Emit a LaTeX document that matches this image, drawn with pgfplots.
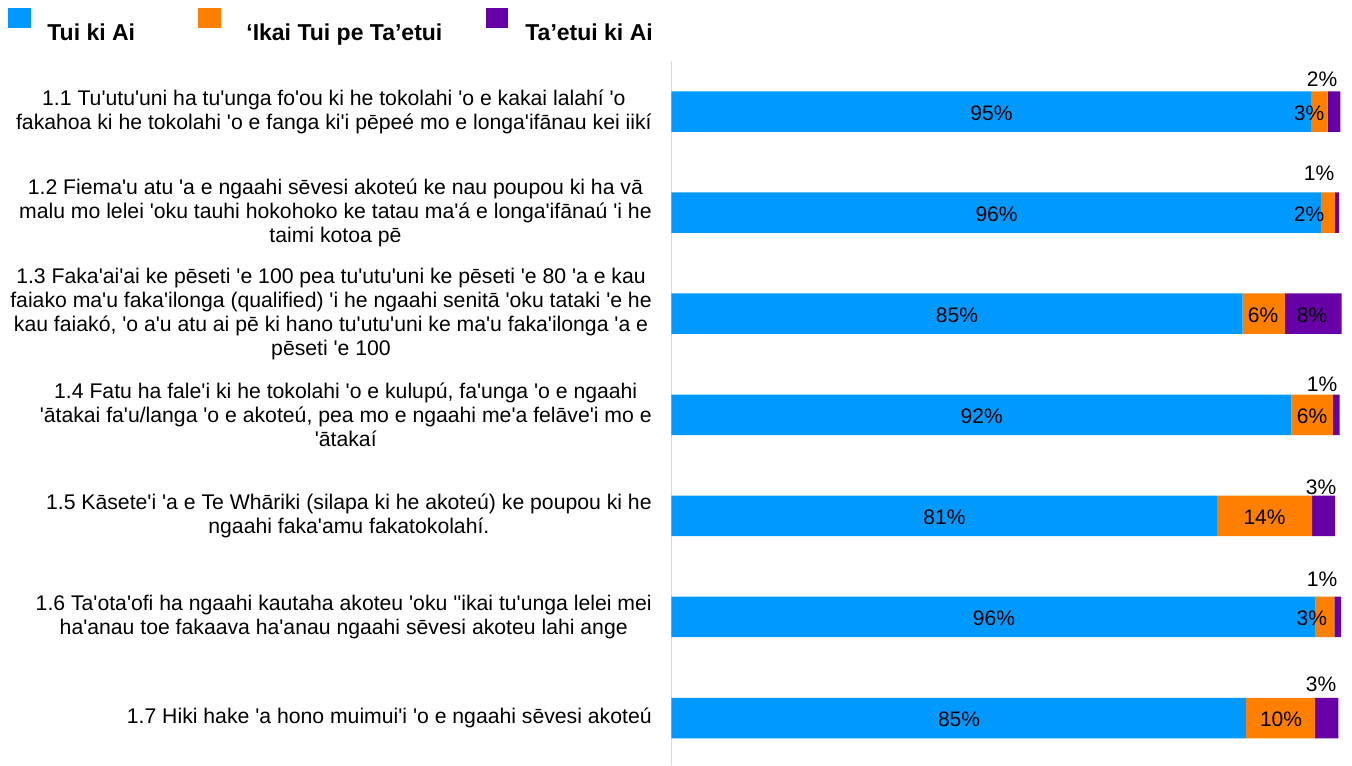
\documentclass[border=0pt]{standalone}
\usepackage{fontspec}
\setmainfont{Liberation Sans}
\newfontfamily\lib{Liberation Sans}
\usepackage{pgfplots}
\pgfplotsset{compat=1.18}
\usepackage{pgfplotstable}
\definecolor{cblue}{HTML}{0099FF}
\definecolor{corange}{HTML}{FF8000}
\definecolor{cpurple}{HTML}{6600A6}
\definecolor{caxis}{HTML}{D9D9D9}

\pgfplotstableread{
y tui ikai taetui
1 95.5 2.5 1.9
2 97.0 2.1 0.6
3 85.3 6.3 8.5
4 92.6 6.2 1.0
5 81.5 14.2 3.4
6 96.2 2.8 1.0
7 85.8 10.3 3.5
}\datatable

\pgfplotstableread{
x y lab
47.81 1 95
95.22 1 3
97.16 0.668 2
48.56 2 96
95.22 2 2
96.71 1.598 1
42.66 3 85
88.35 3 6
95.67 3 8
46.35 4 92
95.67 4 6
97.16 3.680 1
40.79 5 81
88.58 5 14
97.01 4.702 3
48.17 6 96
95.63 6 3
97.16 5.609 1
42.96 7 85
91.04 7 10
97.01 6.647 3
}\labeltable

\begin{document}
\begin{tikzpicture}
\begin{axis}[
  name=ax,
  scale only axis,
  width=340.35pt, height=352pt,
  xmin=0, xmax=101.64,
  ymin=0.5, ymax=7.465,
  y dir=reverse,
  xbar stacked,
  bar width=20.25pt,
  axis x line=none,
  axis y line*=left,
  y axis line style={draw=caxis, line width=0.75pt, -},
  ytick={1,2,3,4,5,6,7},
  yticklabels={
    {1.1 Tu'utu'uni ha tu'unga fo'ou ki he tokolahi 'o e kakai lalahí 'o\\fakahoa ki he tokolahi 'o e fanga ki'i pēpeé mo e longa'ifānau kei iikí},
    {1.2 Fiema'u atu 'a e ngaahi sēvesi akoteú ke nau poupou ki ha vā\\malu mo lelei 'oku tauhi hokohoko ke tatau ma'á e longa'ifānaú 'i he\\taimi kotoa pē},
    {1.3 Faka'ai'ai ke pēseti 'e 100 pea tu'utu'uni ke pēseti 'e 80 'a e kau\\faiako ma'u faka'ilonga (qualified) 'i he ngaahi senitā 'oku tataki 'e he\\kau faiakó, 'o a'u atu ai pē ki hano tu'utu'uni ke ma'u faka'ilonga 'a e\\pēseti 'e 100},
    {1.4 Fatu ha fale'i ki he tokolahi 'o e kulupú, fa'unga 'o e ngaahi\\'ātakai fa'u/langa 'o e akoteú, pea mo e ngaahi me'a felāve'i mo e\\'ātakaí},
    {1.5 Kāsete'i 'a e Te Whāriki (silapa ki he akoteú) ke poupou ki he\\ngaahi faka'amu fakatokolahí.},
    {1.6 Ta'ota'ofi ha ngaahi kautaha akoteu 'oku ''ikai tu'unga lelei mei\\ha'anau toe fakaava ha'anau ngaahi sēvesi akoteu lahi ange},
    {1.7 Hiki hake 'a hono muimui'i 'o e ngaahi sēvesi akoteú}
  },
  major tick length=0pt,
  yticklabel style={align=center, inner sep=0pt, xshift=-9.6pt,
    font=\lib\fontsize{10.6}{12}\selectfont, text=black},
  legend style={at={(axis description cs:0,1)}, anchor=north west,
    xshift=-331.45pt, yshift=26.5pt, draw=none, fill=none,
    inner sep=0pt, outer sep=0pt, column sep=0pt, row sep=0pt,
    nodes={inner sep=0pt},
    font=\lib\bfseries\fontsize{11.5}{13}\selectfont},
  legend columns=3,
  legend cell align=left,
]
\addplot[fill=cblue, draw=none,
  legend image code/.code={\fill[cblue] (0pt,5pt) rectangle (11.5pt,15pt);}]
  table[x=tui, y=y] \datatable;
\addlegendentry{\makebox[83.5pt][l]{\hspace{8pt}\raisebox{4.5pt}{Tui ki Ai}}}
\addplot[fill=corange, draw=none,
  legend image code/.code={\fill[corange] (0pt,5pt) rectangle (11.5pt,15pt);}]
  table[x=ikai, y=y] \datatable;
\addlegendentry{\makebox[132.5pt][l]{\hspace{12.5pt}\raisebox{4.5pt}{‘Ikai Tui pe Ta’etui}}}
\addplot[fill=cpurple, draw=none,
  legend image code/.code={\fill[cpurple] (0pt,5pt) rectangle (11pt,15pt);}]
  table[x=taetui, y=y] \datatable;
\addlegendentry{\hspace{8.5pt}\raisebox{4.5pt}{Ta’etui ki Ai}}
\end{axis}
\begin{axis}[
  scale only axis,
  width=340.35pt, height=352pt,
  xmin=0, xmax=101.64,
  ymin=0.5, ymax=7.465,
  y dir=reverse,
  hide axis,
  every node near coord/.append style={anchor=center, inner sep=0pt,
    yshift=-0.8pt, font=\lib\fontsize{10.5}{12}\selectfont, text=black},
]
\addplot[draw=none, mark=none, nodes near coords={\pgfplotspointmeta\%},
  point meta=explicit symbolic]
  table[x=x, y=y, meta=lab] \labeltable;
\end{axis}
\pgfresetboundingbox
\path[use as bounding box] ([xshift=-335.65pt]ax.south west) rectangle ([yshift=30.5pt]ax.north east);
\end{tikzpicture}
\end{document}
